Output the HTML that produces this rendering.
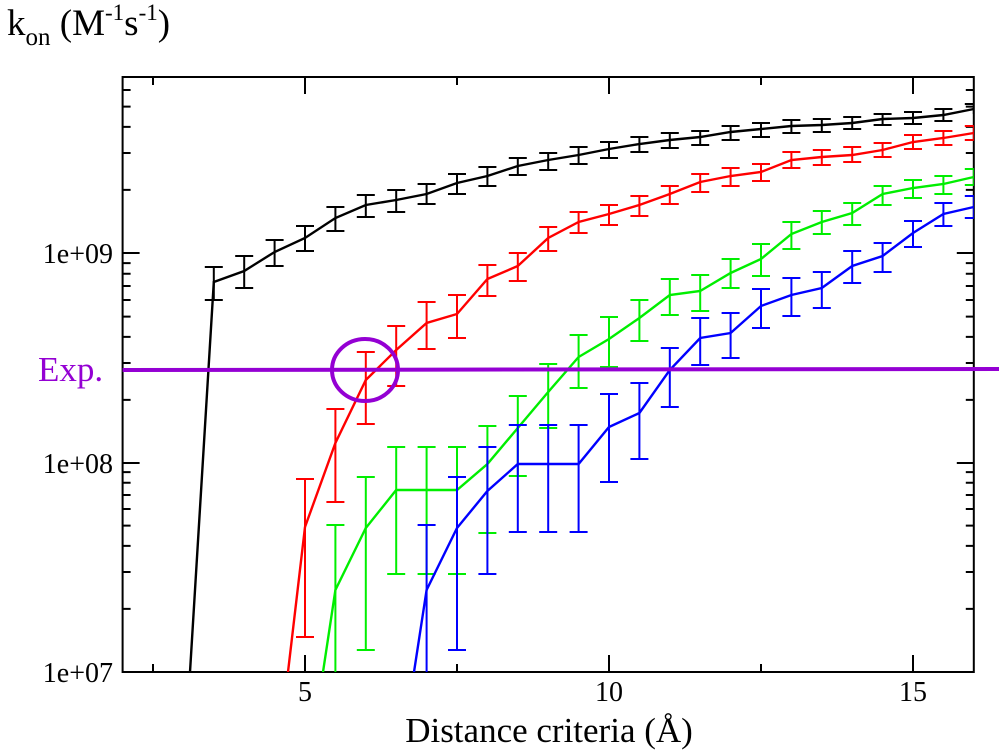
<!DOCTYPE html>
<html><head><meta charset="utf-8"><style>body{margin:0;background:#fff}svg{display:block}</style></head>
<body>
<svg width="999" height="755" viewBox="0 0 999 755" xmlns="http://www.w3.org/2000/svg" font-family="Liberation Serif, serif">
<defs><clipPath id="c"><rect x="122.6" y="77" width="851.2" height="595"/></clipPath></defs>
<rect width="999" height="755" fill="#fff"/>
<g stroke="#000" stroke-width="2" fill="none">
<path d="M122.6 672h17M122.6 463h17M122.6 253h17M973.8 672h-17M973.8 463h-17M973.8 253h-17"/>
<path d="M122.6 608.9h8M122.6 572h8M122.6 545.9h8M122.6 525.6h8M122.6 509h8M122.6 495h8M122.6 482.8h8M122.6 472.1h8
M122.6 399.9h8M122.6 363h8M122.6 336.9h8M122.6 316.6h8M122.6 300h8M122.6 286h8M122.6 273.8h8M122.6 263.1h8
M122.6 189.9h8M122.6 153h8M122.6 126.9h8M122.6 106.6h8M122.6 90h8
M973.8 608.9h-8M973.8 572h-8M973.8 545.9h-8M973.8 525.6h-8M973.8 509h-8M973.8 495h-8M973.8 482.8h-8M973.8 472.1h-8
M973.8 399.9h-8M973.8 363h-8M973.8 336.9h-8M973.8 316.6h-8M973.8 300h-8M973.8 286h-8M973.8 273.8h-8M973.8 263.1h-8
M973.8 189.9h-8M973.8 153h-8M973.8 126.9h-8M973.8 106.6h-8M973.8 90h-8"/>
<path d="M305 672v-17M609 672v-17M913 672v-17M305 77v17M609 77v17M913 77v17M153 672v-8M457 672v-8M761 672v-8M153 77v8M457 77v8M761 77v8"/>
<rect x="122.6" y="77" width="851.2" height="595"/>
</g>
<g clip-path="url(#c)" fill="none">
<g stroke="#000">
<path stroke-width="2" d="M213.8 267V300M204.8 267h18M204.8 300h18M244.2 256V288M235.2 256h18M235.2 288h18M274.6 240V266M265.6 240h18M265.6 266h18M305 226V251M296 226h18M296 251h18M335.4 207V231M326.4 207h18M326.4 231h18M365.8 195V217M356.8 195h18M356.8 217h18M396.2 190V212M387.2 190h18M387.2 212h18M426.6 184V204M417.6 184h18M417.6 204h18M457 174V194M448 174h18M448 194h18M487.4 167V186M478.4 167h18M478.4 186h18M517.8 158V175M508.8 158h18M508.8 175h18M548.2 153V170M539.2 153h18M539.2 170h18M578.6 147V164M569.6 147h18M569.6 164h18M609 142V158M600 142h18M600 158h18M639.4 137V152M630.4 137h18M630.4 152h18M669.8 133V148M660.8 133h18M660.8 148h18M700.2 131V145M691.2 131h18M691.2 145h18M730.6 126V140M721.6 126h18M721.6 140h18M761 123V137M752 123h18M752 137h18M791.4 120V133M782.4 120h18M782.4 133h18M821.8 119V132M812.8 119h18M812.8 132h18M852.2 117V129M843.2 117h18M843.2 129h18M882.6 114V125M873.6 114h18M873.6 125h18M913 112V124M904 112h18M904 124h18M943.4 109V121M934.4 109h18M934.4 121h18M973.8 104V114M964.8 104h18"/>
<polyline stroke-width="2.4" points="190,672 213.8,282 244.2,271 274.6,252 305,238 335.4,218 365.8,205 396.2,200 426.6,194 457,183 487.4,176 517.8,166 548.2,160 578.6,155 609,149 639.4,144 669.8,140 700.2,137 730.6,132 761,129 791.4,126 821.8,125 852.2,123 882.6,119 913,118 943.4,115 973.8,109"/>
</g>
<g stroke="#ff0000">
<path stroke-width="2" d="M305 479V637M296 479h18M296 637h18M335.4 409V502M326.4 409h18M326.4 502h18M365.8 352V424M356.8 352h18M356.8 424h18M396.2 326V386M387.2 326h18M387.2 386h18M426.6 302V349M417.6 302h18M417.6 349h18M457 295V338M448 295h18M448 338h18M487.4 265V296M478.4 265h18M478.4 296h18M517.8 253V281M508.8 253h18M508.8 281h18M548.2 227V251M539.2 227h18M539.2 251h18M578.6 212V233M569.6 212h18M569.6 233h18M609 205V225M600 205h18M600 225h18M639.4 196V216M630.4 196h18M630.4 216h18M669.8 186V204M660.8 186h18M660.8 204h18M700.2 174V192M691.2 174h18M691.2 192h18M730.6 168V186M721.6 168h18M721.6 186h18M761 164V181M752 164h18M752 181h18M791.4 152V168M782.4 152h18M782.4 168h18M821.8 150V165M812.8 150h18M812.8 165h18M852.2 147V162M843.2 147h18M843.2 162h18M882.6 143V157M873.6 143h18M873.6 157h18M913 135V149M904 135h18M904 149h18M943.4 131V145M934.4 131h18M934.4 145h18M973.8 126V140M964.8 126h18M964.8 140h18"/>
<polyline stroke-width="2.4" points="288,672 305,527 335.4,443 365.8,380 396.2,350 426.6,323 457,314 487.4,279 517.8,266 548.2,238 578.6,222 609,214 639.4,205 669.8,194 700.2,182 730.6,176 761,172 791.4,160 821.8,157 852.2,155 882.6,150 913,142 943.4,138 973.8,133"/>
</g>
<g stroke="#00ee00">
<path stroke-width="2" d="M335.4 525V700M326.4 525h18M365.8 477V650M356.8 477h18M356.8 650h18M396.2 447V574M387.2 447h18M387.2 574h18M426.6 447V574M417.6 447h18M417.6 574h18M457 447V574M448 447h18M448 574h18M487.4 426V533M478.4 426h18M478.4 533h18M517.8 396V476M508.8 396h18M508.8 476h18M548.2 364V428M539.2 364h18M539.2 428h18M578.6 335V388M569.6 335h18M569.6 388h18M609 317V367M600 317h18M600 367h18M639.4 300V341M630.4 300h18M630.4 341h18M669.8 279V315M660.8 279h18M660.8 315h18M700.2 275V311M691.2 275h18M691.2 311h18M730.6 259V288M721.6 259h18M721.6 288h18M761 244V276M752 244h18M752 276h18M791.4 222V249M782.4 222h18M782.4 249h18M821.8 211V234M812.8 211h18M812.8 234h18M852.2 203V225M843.2 203h18M843.2 225h18M882.6 186V205M873.6 186h18M873.6 205h18M913 180V198M904 180h18M904 198h18M943.4 176V194M934.4 176h18M934.4 194h18M973.8 169V185M964.8 169h18M964.8 185h18"/>
<polyline stroke-width="2.4" points="323,672 335.4,590 365.8,528 396.2,490 426.6,490 457,490 487.4,464 517.8,428 548.2,392 578.6,357 609,339 639.4,318 669.8,295 700.2,291 730.6,273 761,259 791.4,234 821.8,222 852.2,213 882.6,194 913,188 943.4,184 973.8,177"/>
</g>
<g stroke="#0000ff">
<path stroke-width="2" d="M426.6 525V700M417.6 525h18M457 477V650M448 477h18M448 650h18M487.4 447V574M478.4 447h18M478.4 574h18M517.8 425V532M508.8 425h18M508.8 532h18M548.2 425V532M539.2 425h18M539.2 532h18M578.6 425V532M569.6 425h18M569.6 532h18M609 394V482M600 394h18M600 482h18M639.4 383V459M630.4 383h18M630.4 459h18M669.8 348V407M660.8 348h18M660.8 407h18M700.2 318V365M691.2 318h18M691.2 365h18M730.6 313V358M721.6 313h18M721.6 358h18M761 289V328M752 289h18M752 328h18M791.4 278V316M782.4 278h18M782.4 316h18M821.8 272V308M812.8 272h18M812.8 308h18M852.2 251V283M843.2 251h18M843.2 283h18M882.6 243V272M873.6 243h18M873.6 272h18M913 221V247M904 221h18M904 247h18M943.4 203V226M934.4 203h18M934.4 226h18M973.8 196V218M964.8 196h18M964.8 218h18"/>
<polyline stroke-width="2.4" points="414,672 426.6,590 457,528 487.4,491 517.8,464 548.2,464 578.6,464 609,427 639.4,413 669.8,370 700.2,338 730.6,333 761,306 791.4,295 821.8,288 852.2,266 882.6,256 913,233 943.4,214 973.8,207"/>
</g>
</g>
<line x1="122.6" y1="370" x2="999" y2="369" stroke="#9400d3" stroke-width="4"/>
<ellipse cx="365" cy="370" rx="33" ry="31" fill="none" stroke="#9400d3" stroke-width="4"/>
<text x="38" y="381" font-size="35" fill="#9400d3">Exp.</text>
<g font-size="28" text-anchor="end">
<text x="113" y="263">1e+09</text><text x="113" y="473">1e+08</text><text x="113" y="682">1e+07</text>
</g>
<g font-size="28" text-anchor="middle">
<text x="305" y="701">5</text><text x="609" y="701">10</text><text x="913" y="701">15</text>
</g>
<text x="549" y="742" font-size="35" text-anchor="middle">Distance criteria (Å)</text>
<text x="7" y="35" font-size="37">k<tspan font-size="25" dy="10">on</tspan><tspan dy="-10"> (M</tspan><tspan font-size="23" dy="-15">-1</tspan><tspan dy="15">s</tspan><tspan font-size="23" dy="-15">-1</tspan><tspan dy="15">)</tspan></text>
</svg>
</body></html>
